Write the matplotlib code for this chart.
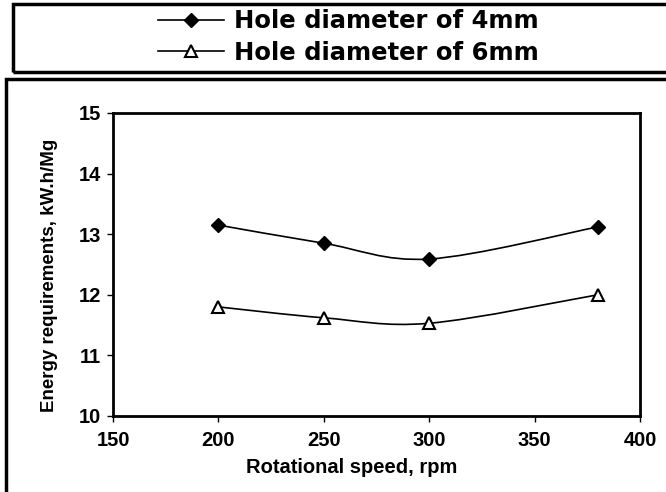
import matplotlib
matplotlib.use("Agg")
import matplotlib.pyplot as plt
from matplotlib.path import Path
from matplotlib.patches import PathPatch, Rectangle
from matplotlib.lines import Line2D

speed = [200, 250, 300, 380]
hole_4mm = [13.15, 12.85, 12.59, 13.12]
hole_6mm = [11.80, 11.62, 11.53, 12.00]
labels = ['Hole diameter of 4mm', 'Hole diameter of 6mm']
x_ticks = [150, 200, 250, 300, 350, 400]
y_ticks = [10, 11, 12, 13, 14, 15]

plt.rcParams['font.family'] = ['Liberation Sans', 'DejaVu Sans']
plt.rcParams['font.weight'] = 'bold'


def smooth_path(xs, ys):
    # excel style smoothed line: cubic bezier through every point
    n = len(xs)
    verts = [(xs[0], ys[0])]
    codes = [Path.MOVETO]
    for i in range(n - 1):
        a = max(i - 1, 0)
        b = min(i + 2, n - 1)
        c1 = (xs[i] + (xs[i + 1] - xs[a]) / 6, ys[i] + (ys[i + 1] - ys[a]) / 6)
        c2 = (xs[i + 1] - (xs[b] - xs[i]) / 6, ys[i + 1] - (ys[b] - ys[i]) / 6)
        verts += [c1, c2, (xs[i + 1], ys[i + 1])]
        codes += [Path.CURVE4] * 3
    return Path(verts, codes)


fig = plt.figure(figsize=(6.66, 4.92), dpi=100)
ax = fig.add_axes([0.1697, 0.1545, 0.7913, 0.6159])

styles = [dict(marker='D', markersize=7, markerfacecolor='black', markeredgecolor='black'),
          dict(marker='^', markersize=8, markerfacecolor='white', markeredgecolor='black',
               markeredgewidth=1.5)]
handles = []
for ys, st, lab in zip([hole_4mm, hole_6mm], styles, labels):
    ax.add_patch(PathPatch(smooth_path(speed, ys), facecolor='none', edgecolor='black',
                           linewidth=1.2, zorder=2))
    ax.plot(speed, ys, linestyle='none', zorder=3, **st)
    handles.append(Line2D([], [], color='black', linewidth=1.2, label=lab, **st))

ax.set_xlim(150, 400)
ax.set_ylim(10, 15)
ax.set_xticks(x_ticks)
ax.set_yticks(y_ticks)
for s in ax.spines.values():
    s.set_linewidth(2)
ax.tick_params(direction='out', length=4.5, width=1, labelsize=14.5)
ax.tick_params(axis='x', pad=6)
ax.tick_params(axis='y', pad=4)
for lab in ax.get_xticklabels() + ax.get_yticklabels():
    lab.set_fontweight('bold')

ax.set_xlabel('Rotational speed, rpm', fontsize=14.5, fontweight='bold')
ax.xaxis.set_label_coords(0.453, -0.14)
ax.set_ylabel('Energy requirements, kW.h/Mg', fontsize=13.5, fontweight='bold')
ax.yaxis.set_label_coords(-0.104, 0.465)

# boxes around legend and chart area
fig.patches.append(Rectangle((13 / 666, 1 - 72 / 492), 1.0, 68 / 492, transform=fig.transFigure,
                             fill=False, edgecolor='black', linewidth=2.5))
fig.patches.append(Rectangle((6 / 666, -0.05), 1.0, 1 - 79 / 492 + 0.05, transform=fig.transFigure,
                             fill=False, edgecolor='black', linewidth=2.5))

fig.legend(handles=handles, loc='center', bbox_to_anchor=(0.523, 1 - 37 / 492),
           frameon=False, handlelength=2.7, handletextpad=0.4, labelspacing=0.3,
           borderpad=0, prop={'family': 'DejaVu Sans', 'weight': 'bold', 'size': 17.5})

plt.savefig('out.png', dpi=100)
plt.close()
